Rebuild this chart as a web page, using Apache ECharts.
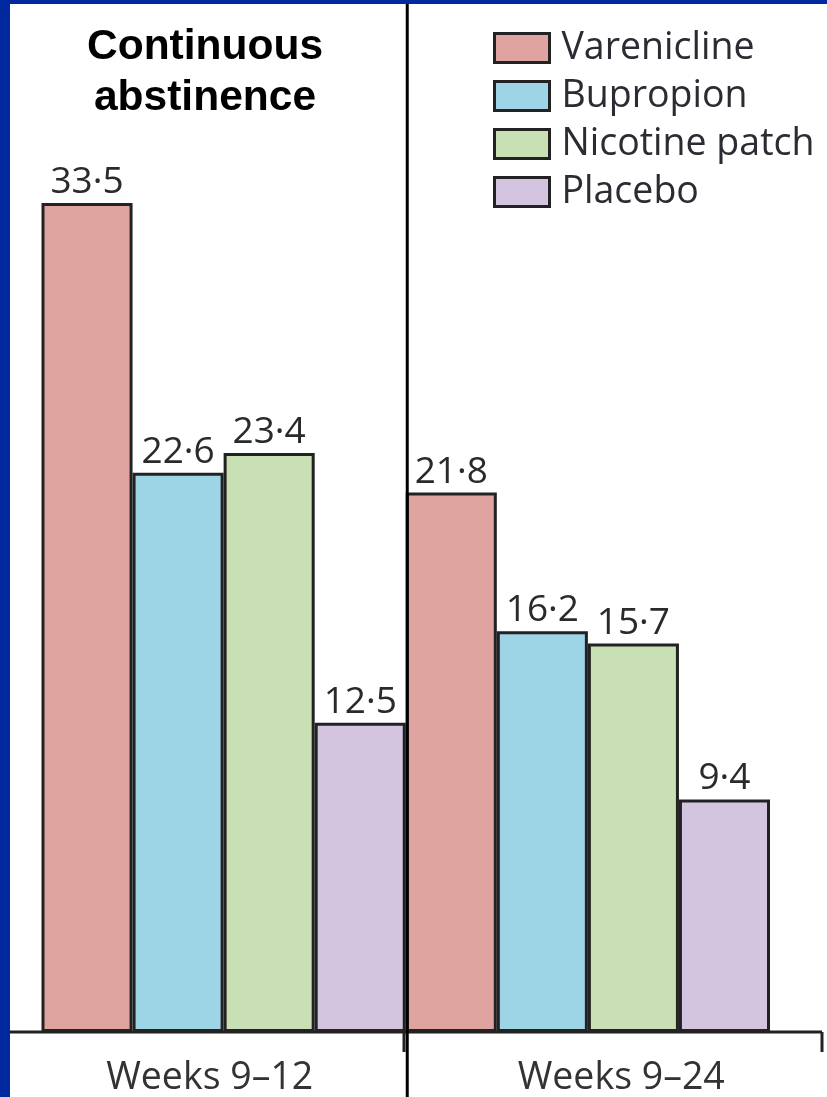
<!DOCTYPE html>
<html>
<head>
<meta charset="utf-8">
<script src="https://cdn.jsdelivr.net/npm/echarts@6/dist/echarts.min.js"></script>
<style>
  html, body { margin: 0; padding: 0; background: #ffffff; }
  #chart { width: 827px; height: 1097px; }
</style>
</head>
<body>
<div id="chart"></div>
<script>
// Abstinence rates (%) by treatment arm
const periods = ['Weeks 9\u201312', 'Weeks 9\u201324'];
const treatments = ['Varenicline', 'Bupropion', 'Nicotine patch', 'Placebo'];
const varenicline = [33.5, 21.8];
const bupropion = [22.6, 16.2];
const nicotinePatch = [23.4, 15.7];
const placebo = [12.5, 9.4];

const seriesValues = [varenicline, bupropion, nicotinePatch, placebo];
const fills = ['#e0a4a0', '#9dd5e7', '#c9e0b4', '#d3c4e0'];

const W = 827, H = 1097;
const gridLeft = 41.5, gridWidth = 728.5;
const baseY = 1032;
const yMax = 40;
const gridTop = 42.2;
const divider = gridLeft + gridWidth / periods.length;

const chart = echarts.init(document.getElementById('chart'), null, { renderer: 'canvas' });

const labelFont = '"Open Sans", sans-serif';

const series = treatments.map((name, i) => ({
  name: name,
  type: 'bar',
  xAxisIndex: 0,
  yAxisIndex: 0,
  data: seriesValues[i],
  barGap: '0%',
  barCategoryGap: '0%',
  itemStyle: { color: fills[i], borderColor: '#222', borderWidth: 3 },
  label: {
    show: true,
    position: 'top',
    distance: 2,
    color: '#2a2a2a',
    fontFamily: labelFont,
    fontSize: 37,
    formatter: p => String(p.value).replace('.', '\u00b7')
  },
  z: 2
}));

chart.setOption({
  animation: false,
  backgroundColor: '#ffffff',
  grid: [
    { left: gridLeft, width: gridWidth, top: gridTop, bottom: H - baseY },
    { left: 4, right: -12, top: gridTop, bottom: H - baseY }
  ],
  xAxis: [
    {
      type: 'category', gridIndex: 0, data: periods,
      axisLine: { show: false }, axisTick: { show: false }, axisLabel: { show: false }
    },
    {
      type: 'category', gridIndex: 1, data: periods,
      axisLine: { show: false }, axisTick: { show: false },
      axisLabel: { color: '#333', fontFamily: labelFont, fontSize: 37.5, margin: 27 }
    }
  ],
  yAxis: [
    { type: 'value', gridIndex: 0, min: 0, max: yMax, show: false, splitLine: { show: false } },
    { type: 'value', gridIndex: 1, min: 0, max: yMax, show: false, splitLine: { show: false } }
  ],
  legend: {
    orient: 'vertical',
    left: 493,
    top: 29,
    padding: 0,
    itemWidth: 55,
    itemHeight: 29,
    itemGap: 10,
    icon: 'rect',
    data: treatments,
    itemStyle: { borderColor: '#222', borderWidth: 3 },
    textStyle: { color: '#2b2b33', fontFamily: labelFont, fontSize: 37.5, padding: [0, 0, 0, 7] }
  },
  title: {
    text: 'Continuous\nabstinence',
    left: 200,
    textAlign: 'center',
    top: 17,
    textStyle: {
      fontFamily: '"Liberation Sans", Arial, sans-serif',
      fontWeight: 'bold',
      fontSize: 42.5,
      lineHeight: 51,
      color: '#000'
    }
  },
  graphic: [
    // baseline with end ticks
    { type: 'line', shape: { x1: 0, y1: baseY, x2: 822, y2: baseY }, style: { stroke: '#222', lineWidth: 3 }, z: 10 },
    { type: 'line', shape: { x1: 404, y1: baseY, x2: 404, y2: 1052 }, style: { stroke: '#222', lineWidth: 3 }, z: 10 },
    { type: 'line', shape: { x1: 822, y1: baseY, x2: 822, y2: 1052 }, style: { stroke: '#222', lineWidth: 3 }, z: 10 },
    // divider between periods
    { type: 'line', shape: { x1: divider + 1.5, y1: 0, x2: divider + 1.5, y2: H }, style: { stroke: '#000', lineWidth: 3 }, z: 11 },
    // frame
    { type: 'rect', shape: { x: 0, y: 0, width: 10, height: H }, style: { fill: '#0228a0' }, z: 20 },
    { type: 'rect', shape: { x: 0, y: 0, width: W, height: 4 }, style: { fill: '#0228a0' }, z: 20 }
  ],
  series: series
});
</script>
</body>
</html>
